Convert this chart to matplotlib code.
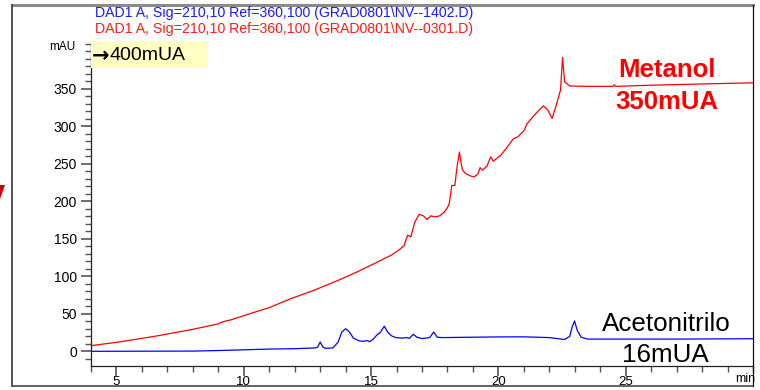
import matplotlib
matplotlib.use("Agg")
import matplotlib.pyplot as plt
from matplotlib.patches import Rectangle, Polygon
from matplotlib.lines import Line2D
from matplotlib.ticker import MultipleLocator

plt.rcParams['font.family'] = ['Liberation Sans', 'DejaVu Sans']

# Metanol gradient run (red trace), time in min, signal in mAU
metanol_t = [4.0, 5.27, 6.58, 7.9, 9.0, 9.1, 9.3, 9.5, 10.26, 11.0, 11.83, 12.8, 13.73,
             14.5, 15.24, 15.8, 16.1, 16.3, 16.43, 16.56, 16.72, 16.89, 17.05, 17.19,
             17.35, 17.5, 17.7, 17.87, 18.0, 18.07, 18.17, 18.29, 18.38, 18.47, 18.53,
             18.59, 18.72, 18.9, 19.05, 19.2, 19.28, 19.38, 19.55, 19.7, 19.8, 20.1,
             20.35, 20.59, 20.76, 21.02, 21.11, 21.41, 21.6, 21.77, 21.94, 22.11, 22.27,
             22.44, 22.52, 22.6, 22.8, 23.5, 24.5, 24.55, 24.6, 26.0, 28.0, 30.0]
metanol_mau = [7.5, 13.3, 20.5, 28.7, 36.6, 38.5, 40.5, 42.0, 50.4, 58.3, 70.0, 82.0, 95.0,
               106.7, 119.0, 128.4, 135.4, 141.0, 155.0, 152.6, 172.6, 182.8, 180.8, 175.9,
               180.8, 179.3, 180.8, 185.7, 191.7, 197.0, 221.3, 221.3, 247.0, 265.8, 252.0,
               241.7, 237.0, 234.0, 232.7, 237.0, 245.0, 241.7, 247.0, 259.4, 253.7, 261.8,
               272.7, 283.6, 286.0, 295.0, 303.0, 315.0, 322.0, 327.5, 321.8, 310.7, 328.0,
               348.5, 392.0, 359.6, 354.0, 353.5, 353.5, 355.5, 353.5, 355.0, 356.7, 358.2]

# Acetonitrilo gradient run (blue trace)
aceto_t = [4.0, 8.0, 9.0, 10.0, 11.0, 12.0, 12.8, 12.9, 13.0, 13.1, 13.2, 13.5, 13.7,
           13.85, 14.0, 14.15, 14.3, 14.5, 14.66, 14.85, 14.95, 15.1, 15.24, 15.35, 15.52,
           15.65, 15.8, 15.97, 16.2, 16.4, 16.5, 16.66, 16.8, 17.0, 17.3, 17.46, 17.6,
           17.8, 18.5, 20.0, 21.0, 22.0, 22.6, 22.8, 22.9, 22.99, 23.1, 23.25, 23.5,
           25.0, 27.0, 30.0]
aceto_mau = [0.0, 0.3, 1.0, 2.0, 3.0, 3.5, 4.5, 5.5, 12.4, 6.0, 4.0, 4.5, 12.0,
             25.7, 30.2, 25.7, 17.8, 14.3, 13.3, 14.3, 12.8, 16.8, 22.2, 24.7, 33.4,
             25.7, 20.7, 18.3, 17.6, 18.3, 17.3, 22.7, 18.8, 17.0, 18.3, 25.7, 18.8,
             18.3, 18.6, 19.2, 19.3, 18.3, 15.8, 19.8, 32.6, 40.5, 27.7, 18.8, 16.3,
             16.3, 16.3, 16.8]

W, H = 760, 390
fig = plt.figure(figsize=(W / 100, H / 100), dpi=100)


def fx(px):
    return px / W


def fy(py):
    return 1 - py / H


ax = fig.add_axes([fx(91), fy(366), fx(753) - fx(91), fy(44) - fy(366)])
ax.plot(metanol_t, metanol_mau, color='#ff0000', lw=0.9)
ax.plot(aceto_t, aceto_mau, color='#0000ff', lw=0.9)

ax.set_xlim(4, 30)
ax.set_ylim(-19.6, 410)
ax.xaxis.set_minor_locator(MultipleLocator(1))
ax.yaxis.set_minor_locator(MultipleLocator(10))
ax.set_xticks([5, 10, 15, 20, 25])
ax.set_yticks([0, 50, 100, 150, 200, 250, 300, 350])
for s in ('top', 'right'):
    ax.spines[s].set_visible(False)
for s in ('left', 'bottom'):
    ax.spines[s].set_color('#222222')
    ax.spines[s].set_linewidth(0.9)
ax.tick_params(which='major', length=7, width=1.2, color='#555555', labelsize=10)
ax.tick_params(axis='x', which='major', labelsize=9.5, pad=0.5)
ax.tick_params(axis='y', which='major', pad=3)
ax.tick_params(which='minor', length=4, width=1.0, color='#555555')
ax.patch.set_visible(False)

# header lines with the file names
fig.text(fx(95), fy(13.5), r"DAD1 A, Sig=210,10 Ref=360,100 (GRAD0801\NV--1402.D)",
         color='#1a1aff', fontsize=10.2, va='center')
fig.text(fx(95), fy(29.5), r"DAD1 A, Sig=210,10 Ref=360,100 (GRAD0801\NV--0301.D)",
         color='#ff1a1a', fontsize=10.2, va='center')
fig.text(fx(75), fy(47), "mAU", fontsize=8.5, ha='right', va='center')
fig.text(fx(755), fy(379), "min", fontsize=9, ha='right', va='center')

# yellow label box at the top of the scale
fig.add_artist(Rectangle((fx(91), fy(68)), fx(208) - fx(91), fy(41) - fy(68),
                         transform=fig.transFigure, facecolor='#ffffc4',
                         edgecolor='none', zorder=1))
fig.text(fx(92), fy(56), "\u2192", fontsize=15, family='DejaVu Sans',
         fontweight='bold', va='center', zorder=2)
fig.text(fx(110), fy(56), "400mUA", fontsize=14, va='center', zorder=2)

# trace labels
fig.text(fx(667), fy(70), "Metanol", color='#ff0000', fontsize=18.5,
         fontweight='bold', ha='center', va='center')
fig.text(fx(667), fy(102), "350mUA", color='#ff0000', fontsize=18.5,
         fontweight='bold', ha='center', va='center')
fig.text(fx(666), fy(324), "Acetonitrilo", fontsize=18.7, ha='center', va='center')
fig.text(fx(665), fy(355), "16mUA", fontsize=18.7, ha='center', va='center')

# slide frame around the plot
fig.add_artist(Line2D([fx(12), fx(753)], [fy(5), fy(5)], color='#8a8a8a', lw=2.2))
fig.add_artist(Line2D([fx(12), fx(12)], [fy(5), fy(386)], color='#444444', lw=1.3))
fig.add_artist(Line2D([fx(12), fx(753)], [fy(386), fy(386)], color='#555555', lw=1.3))
fig.add_artist(Line2D([fx(753), fx(753)], [fy(5), fy(386)], color='#111111', lw=0.9))
fig.add_artist(Polygon([(fx(0), fy(185)), (fx(5), fy(185)), (fx(0), fy(199))],
                       closed=True, transform=fig.transFigure,
                       facecolor='#cc0000', edgecolor='none'))

fig.savefig("out.png", dpi=100)
